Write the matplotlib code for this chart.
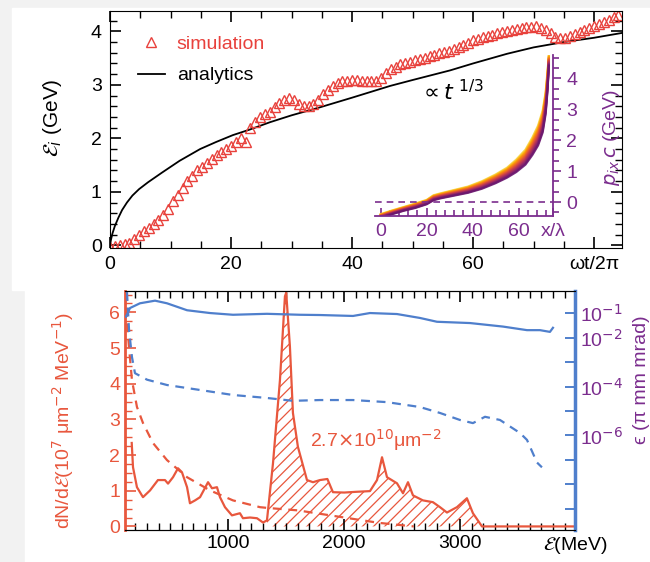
import matplotlib
matplotlib.use('Agg')
import matplotlib.pyplot as plt
import numpy as np
from matplotlib.ticker import MultipleLocator, LogLocator, NullFormatter, FuncFormatter
from matplotlib.patches import Rectangle

plt.rcParams['font.family'] = ['Liberation Sans', 'DejaVu Sans']
plt.rcParams['font.size'] = 14
plt.rcParams['hatch.linewidth'] = 0.9

RED = '#e8413c'
ORANGE = '#e8573d'
BLUE = '#4f7fcc'
PURPLE = '#7b2d8e'

# ---- top panel: ion energy vs time ----
sim_t = np.arange(0, 84.1, 0.8)
sim_e = [-0.03, -0.02, 0.0, 0.02, 0.05, 0.12, 0.2, 0.27, 0.32, 0.4,
         0.47, 0.56, 0.68, 0.82, 0.95, 1.08, 1.2, 1.3, 1.4, 1.47,
         1.54, 1.61, 1.68, 1.74, 1.8, 1.86, 1.93, 2.0, 1.94, 2.2,
         2.3, 2.4, 2.46, 2.5, 2.58, 2.66, 2.71, 2.75, 2.72, 2.65,
         2.6, 2.6, 2.65, 2.72, 2.82, 2.9, 2.98, 3.04, 3.07, 3.08,
         3.09, 3.09, 3.08, 3.07, 3.07, 3.08, 3.12, 3.22, 3.3, 3.34,
         3.38, 3.41, 3.43, 3.46, 3.48, 3.51, 3.53, 3.56, 3.59, 3.61,
         3.64, 3.67, 3.71, 3.75, 3.79, 3.83, 3.86, 3.89, 3.92, 3.94,
         3.96, 3.98, 4.0, 4.02, 4.04, 4.06, 4.08, 4.09, 4.1, 4.07,
         4.02, 3.96, 3.9, 3.87, 3.88, 3.92, 3.95, 3.99, 4.03, 4.07,
         4.1, 4.14, 4.18, 4.22, 4.26, 4.3]

ana_t = [0, 0.15, 0.4, 0.8, 1.4, 2.0, 2.8, 3.7, 4.8, 6.3, 8.6, 11.5, 14.9, 17.5,
         20.3, 23, 26.4, 30, 34.7, 40, 46.3, 50, 56.2, 60, 65.6, 70, 75, 80, 84.6]
ana_e = [0, 0.1, 0.22, 0.36, 0.52, 0.66, 0.8, 0.93, 1.05, 1.18, 1.36, 1.58, 1.8, 1.93,
         2.06, 2.16, 2.3, 2.43, 2.58, 2.76, 2.98, 3.09, 3.27, 3.4, 3.58, 3.7, 3.8, 3.88, 3.97]

# inset: p_ix c vs x/lambda (band edges)
inset_x = [0, 5, 10, 15, 20, 23, 26, 32, 38, 44, 50, 55, 59, 63, 66, 68.5, 70.5, 71.8, 72.6, 73.2]
inset_lo = [-0.51, -0.39, -0.28, -0.19, -0.07, 0.06, 0.12, 0.21, 0.30, 0.43,
            0.61, 0.79, 0.97, 1.21, 1.52, 1.83, 2.25, 2.85, 3.6, 4.4]
inset_hi = [-0.39, -0.27, -0.16, -0.05, 0.07, 0.22, 0.28, 0.39, 0.50, 0.67,
            0.89, 1.11, 1.37, 1.69, 2.08, 2.47, 2.95, 3.55, 4.2, 4.75]

# ---- bottom panel: spectrum and emittance ----
spec_e = [168, 179, 213, 265, 326, 394, 455, 481, 524, 567, 601, 645, 670, 714, 757,
          826, 860, 903, 929, 972, 1032, 1101, 1127, 1188, 1248, 1300, 1334,
          1386, 1446, 1489, 1500, 1532, 1558, 1601, 1679, 1731, 1791, 1855,
          1903, 2000, 2100, 2222, 2283, 2326, 2369, 2455, 2507, 2550, 2593, 2679, 2765,
          2826, 2886, 2972, 3058, 3110, 3188, 3600, 3990]
spec_n = [2.34, 1.66, 1.1, 0.82, 1.01, 1.3, 1.3, 1.2, 1.38, 1.63, 1.52, 1.1, 0.65, 0.73, 0.82,
          1.24, 1.07, 1.1, 0.82, 0.54, 0.31, 0.37, 0.23, 0.25, 0.23, 0.11, 0.17,
          1.77, 4.1, 6.45, 6.55, 5.04, 3.18, 2.23, 1.3, 1.24, 1.3, 1.33,
          0.96, 0.95, 0.97, 0.99, 1.3, 1.94, 1.38, 1.21, 0.93, 1.24, 0.87, 0.73, 0.68,
          0.54, 0.39, 0.54, 0.79, 0.37, 0.0, 0.0, 0.0]

ref_e = [118, 130, 145, 170, 213, 265, 351, 472, 645, 843, 1041, 1274, 1334,
         1600, 2000, 2300, 2600]
ref_n = [7.0, 5.6, 5.0, 4.1, 3.35, 2.9, 2.34, 1.86, 1.38, 1.01, 0.73, 0.54, 0.52,
         0.45, 0.25, 0.1, 0.0]

emit_e = [119, 153, 239, 369, 472, 645, 843, 1041, 1334, 1618, 1791, 2076, 2222,
          2455, 2653, 2800, 3085, 3369, 3576, 3688, 3774, 3800]
emit_v = [7.1e-2, 1.6e-1, 2.5e-1, 3.2e-1, 2.5e-1, 1.3e-1, 1.0e-1, 8.5e-2, 9.3e-2,
          8.5e-2, 8.3e-2, 7.6e-2, 1.0e-1, 9.1e-2, 6.3e-2, 4.4e-2, 3.9e-2, 2.8e-2,
          2.0e-2, 2.0e-2, 1.7e-2, 2.5e-2]

emit2_e = [127, 145, 170, 196, 300, 472, 757, 1041, 1334, 1558, 1791, 2076, 2369,
           2653, 2826, 2998, 3110, 3214, 3343, 3516, 3576, 3662, 3705]
emit2_v = [7.2e-1, 2.0e-2, 1.6e-3, 3.5e-4, 1.9e-4, 1.15e-4, 7.2e-5, 4.5e-5, 3.4e-5,
           2.6e-5, 2.8e-5, 2.8e-5, 2.3e-5, 1.45e-5, 8.3e-6, 4.3e-6, 3.2e-6, 5.8e-6,
           4.3e-6, 1.26e-6, 6.6e-7, 7.9e-8, 5.0e-8]

fig = plt.figure(figsize=(6.5, 5.62), dpi=100, facecolor='#f2f2f2')
fig.patches.append(Rectangle((12 / 650, 1 - 290 / 562), 638 / 650, 282 / 562,
                             transform=fig.transFigure, color='white', zorder=-5))
fig.patches.append(Rectangle((25 / 650, 0), 625 / 650, 1 - 290 / 562,
                             transform=fig.transFigure, color='white', zorder=-5))

# top panel
ax = fig.add_axes([110 / 650, 1 - 248 / 562, 512 / 650, 237 / 562])
ax.set_facecolor('none')
ana_line, = ax.plot(ana_t, ana_e, color='black', lw=1.3, label='analytics')
sim_line, = ax.plot(sim_t, sim_e, linestyle='none', marker='^', ms=7.5, mfc='none',
                    mec=RED, mew=1.0, label='simulation')
ax.set_xlim(0, 84.6)
ax.set_ylim(-0.05, 4.38)
ax.set_xticks([0, 20, 40, 60, 80])
ax.set_xticklabels(['0', '20', '40', '60', 'ωt/2π'])
ax.set_yticks([0, 1, 2, 3, 4])
ax.xaxis.set_minor_locator(MultipleLocator(5))
ax.yaxis.set_minor_locator(MultipleLocator(0.2))
ax.tick_params(axis='both', which='major', direction='in', top=True, right=True,
               length=8, width=1.2, color='black', pad=6)
ax.tick_params(axis='both', which='minor', direction='in', top=True, right=True,
               length=5, width=1.0, color='black')
ax.set_ylabel(r'$\mathcal{E}_i$ (GeV)', fontsize=15)
ax.yaxis.set_label_coords(-0.09, 0.55)
ax.legend(handles=[sim_line, ana_line], loc='upper left', bbox_to_anchor=(0.02, 0.97),
          frameon=False, labelcolor=[RED, 'black'], handlelength=1.4,
          handletextpad=0.6, labelspacing=0.7, fontsize=14)
ax.text(51, 2.72, r'$\propto t^{\ 1/3}$', fontsize=16)

# inset
axin = fig.add_axes([375 / 650, 1 - 216 / 562, 178 / 650, 161 / 562])
axin.set_facecolor('none')
cmap = plt.get_cmap('inferno')
lo = np.array(inset_lo)
hi = np.array(inset_hi)
for f in np.linspace(1, 0, 12):
    axin.plot(inset_x, lo + f * (hi - lo), color=cmap(0.3 + 0.6 * f), lw=1.6, alpha=0.9)
axin.axhline(0, color=PURPLE, ls='--', lw=1.2, dashes=(4, 3))
axin.set_xlim(-2.5, 75)
axin.set_ylim(-0.45, 4.75)
for s in ['left', 'top']:
    axin.spines[s].set_visible(False)
for s in ['right', 'bottom']:
    axin.spines[s].set_color(PURPLE)
    axin.spines[s].set_linewidth(1.3)
axin.yaxis.tick_right()
axin.yaxis.set_label_position('right')
axin.set_xticks([0, 20, 40, 60, 75])
axin.set_xticklabels(['0', '20', '40', '60', 'x/λ'])
axin.set_yticks([0, 1, 2, 3, 4])
axin.xaxis.set_minor_locator(MultipleLocator(4))
axin.yaxis.set_minor_locator(MultipleLocator(1 / 3))
axin.tick_params(axis='x', which='both', direction='in', color=PURPLE, labelcolor=PURPLE,
                 labelsize=14, pad=5, width=1.2)
axin.tick_params(axis='y', which='both', direction='out', color=PURPLE, labelcolor=PURPLE,
                 labelsize=14, width=1.2)
axin.tick_params(which='major', length=6)
axin.tick_params(which='minor', length=4)
axin.set_ylabel(r'$p_{ix}\,c$ (GeV)', color=PURPLE, fontsize=14)
axin.yaxis.set_label_coords(1.27, 0.49)

# bottom panel
axb = fig.add_axes([125 / 650, 1 - 530 / 562, 450 / 650, 239 / 562])
axb.set_facecolor('none')
axb.plot(ref_e, ref_n, color=ORANGE, lw=1.6, ls='--', dashes=(4, 3))
axb.plot(spec_e, spec_n, color=ORANGE, lw=1.6)
se = np.array(spec_e)
axb.fill_between(spec_e, spec_n, 0, where=(se >= 1334) & (se <= 3188),
                 facecolor='none', edgecolor=ORANGE, hatch='///', linewidth=0)
axb.text(1705, 2.42, r'2.7$\times$10$^{10}$μm$^{-2}$', color=ORANGE, fontsize=14, va='center')
axb.set_xlim(110, 3990)
axb.set_ylim(-0.1, 6.6)
axb.set_xticks([1000, 2000, 3000, 3990])
axb.set_xticklabels(['1000', '2000', '3000', r'$\mathcal{E}$(MeV)'])
axb.set_yticks(range(7))
axb.xaxis.set_minor_locator(MultipleLocator(100))
axb.yaxis.set_minor_locator(MultipleLocator(0.25))
axb.tick_params(axis='x', which='major', direction='in', top=True, length=8, width=1.2,
                color='black')
axb.tick_params(axis='x', which='minor', direction='in', top=True, length=5, width=1.0,
                color='black')
axb.tick_params(axis='y', which='major', direction='in', length=8, width=1.2,
                color=ORANGE, labelcolor=ORANGE, labelsize=14)
axb.tick_params(axis='y', which='minor', direction='in', length=5, width=1.0,
                color=ORANGE)
axb.spines['left'].set_color(ORANGE)
axb.spines['left'].set_linewidth(2)
axb.spines['right'].set_visible(False)
axb.set_ylabel(r'dN/d$\mathcal{E}$(10$^7$ μm$^{-2}$ MeV$^{-1}$)', color=ORANGE, fontsize=14)
axb.yaxis.set_label_coords(-0.11, 0.46)

ax2 = axb.twinx()
ax2.set_facecolor('none')
ax2.plot(emit_e, emit_v, color=BLUE, lw=1.6)
ax2.plot(emit2_e, emit2_v, color=BLUE, lw=1.6, ls='--', dashes=(4, 3))
ax2.set_yscale('log')
ax2.set_ylim(10 ** -9.86, 10 ** -0.1)
ax2.yaxis.set_major_locator(LogLocator(base=10, numticks=20))
ax2.yaxis.set_minor_locator(LogLocator(base=10, subs=[], numticks=20))
shown = {-1: r'10$^{-1}$', -2: r'10$^{-2}$', -4: r'10$^{-4}$', -6: r'10$^{-6}$'}
ax2.yaxis.set_major_formatter(FuncFormatter(
    lambda v, p: shown.get(int(round(np.log10(v))), '') if v > 0 else ''))
ax2.yaxis.set_minor_formatter(NullFormatter())
ax2.tick_params(axis='y', which='major', direction='in', length=7, width=1.4,
                color=BLUE, labelcolor=PURPLE, labelsize=14)
ax2.spines['right'].set_color(BLUE)
ax2.spines['right'].set_linewidth(2.5)
ax2.spines['left'].set_visible(False)
ax2.set_ylabel('ϵ (π mm mrad)', color=PURPLE, fontsize=14)
ax2.yaxis.set_label_coords(1.13, 0.63)

fig.savefig('out.png', dpi=100, facecolor=fig.get_facecolor())
